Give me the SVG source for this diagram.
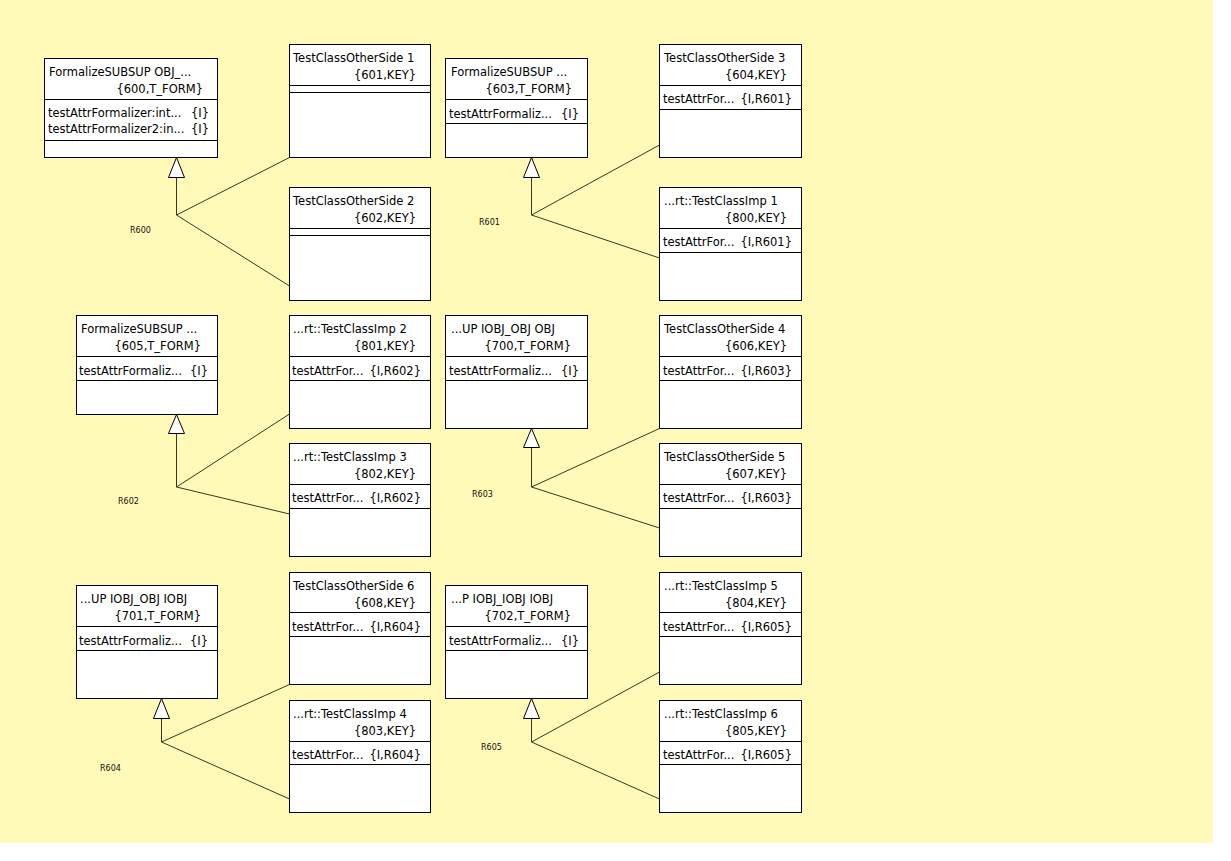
<svg xmlns="http://www.w3.org/2000/svg" width="1231" height="861" viewBox="0 0 1231 861">
<style>
.box rect{fill:#fff;stroke:#000;stroke-width:1}
.box line{stroke:#000;stroke-width:1}
text{font-family:"DejaVu Sans","Liberation Sans",Arial,sans-serif;font-size:11.5px;fill:#000}
.e{text-anchor:end}
.lbl{font-size:8px;fill:#111}
.conn line,.conn polyline{stroke:#3a3520;stroke-width:1;fill:none}
.conn polygon{fill:#fff;stroke:#000;stroke-width:1}
</style>
<rect x="0" y="0" width="1231" height="861" fill="#fff"/>
<rect x="0" y="0" width="1213" height="843" fill="#FFFAB8"/>

<!-- Group R600 -->
<g id="S600" class="box">
<rect x="44.5" y="58.5" width="173" height="99"/>
<line x1="44.5" y1="99.5" x2="217.5" y2="99.5"/>
<line x1="44.5" y1="140.5" x2="217.5" y2="140.5"/>
<text x="49" y="76">FormalizeSUBSUP OBJ_...</text>
<text x="203" y="93" class="e">{600,T_FORM}</text>
<text x="48" y="117">testAttrFormalizer:int...</text>
<text x="209" y="117" class="e">{I}</text>
<text x="48" y="133">testAttrFormalizer2:in...</text>
<text x="209" y="133" class="e">{I}</text>
</g>
<g id="O601" class="box">
<rect x="289.5" y="44.5" width="141" height="113"/>
<line x1="289.5" y1="85.5" x2="430.5" y2="85.5"/>
<line x1="289.5" y1="92.5" x2="430.5" y2="92.5"/>
<text x="293" y="62">TestClassOtherSide 1</text>
<text x="416" y="79" class="e">{601,KEY}</text>
</g>
<g id="O602" class="box">
<rect x="289.5" y="187.5" width="141" height="113"/>
<line x1="289.5" y1="228.5" x2="430.5" y2="228.5"/>
<line x1="289.5" y1="235.5" x2="430.5" y2="235.5"/>
<text x="293" y="205">TestClassOtherSide 2</text>
<text x="416" y="222" class="e">{602,KEY}</text>
</g>

<!-- Group R601 -->
<g id="S603" class="box">
<rect x="445.5" y="58.5" width="142" height="99"/>
<line x1="445.5" y1="99.5" x2="587.5" y2="99.5"/>
<line x1="445.5" y1="123.5" x2="587.5" y2="123.5"/>
<text x="451" y="76">FormalizeSUBSUP ...</text>
<text x="572" y="93" class="e">{603,T_FORM}</text>
<text x="449" y="118">testAttrFormaliz...</text>
<text x="579" y="118" class="e">{I}</text>
</g>
<g id="O604" class="box">
<rect x="659.5" y="44.5" width="142" height="113"/>
<line x1="659.5" y1="85.5" x2="801.5" y2="85.5"/>
<line x1="659.5" y1="109.5" x2="801.5" y2="109.5"/>
<text x="664" y="62">TestClassOtherSide 3</text>
<text x="787" y="79" class="e">{604,KEY}</text>
<text x="663" y="103">testAttrFor...</text>
<text x="792" y="103" class="e">{I,R601}</text>
</g>
<g id="I800" class="box">
<rect x="659.5" y="187.5" width="142" height="113"/>
<line x1="659.5" y1="228.5" x2="801.5" y2="228.5"/>
<line x1="659.5" y1="252.5" x2="801.5" y2="252.5"/>
<text x="664" y="205">...rt::TestClassImp 1</text>
<text x="787" y="222" class="e">{800,KEY}</text>
<text x="663" y="246">testAttrFor...</text>
<text x="792" y="246" class="e">{I,R601}</text>
</g>

<!-- Group R602 -->
<g id="S605" class="box">
<rect x="76.5" y="315.5" width="141" height="99"/>
<line x1="76.5" y1="356.5" x2="217.5" y2="356.5"/>
<line x1="76.5" y1="380.5" x2="217.5" y2="380.5"/>
<text x="81" y="333">FormalizeSUBSUP ...</text>
<text x="201" y="350" class="e">{605,T_FORM}</text>
<text x="79" y="375">testAttrFormaliz...</text>
<text x="208" y="375" class="e">{I}</text>
</g>
<g id="I801" class="box">
<rect x="289.5" y="315.5" width="141" height="113"/>
<line x1="289.5" y1="356.5" x2="430.5" y2="356.5"/>
<line x1="289.5" y1="380.5" x2="430.5" y2="380.5"/>
<text x="293" y="333">...rt::TestClassImp 2</text>
<text x="416" y="350" class="e">{801,KEY}</text>
<text x="292" y="375">testAttrFor...</text>
<text x="421" y="375" class="e">{I,R602}</text>
</g>
<g id="I802" class="box">
<rect x="289.5" y="443.5" width="141" height="113"/>
<line x1="289.5" y1="484.5" x2="430.5" y2="484.5"/>
<line x1="289.5" y1="508.5" x2="430.5" y2="508.5"/>
<text x="293" y="461">...rt::TestClassImp 3</text>
<text x="416" y="478" class="e">{802,KEY}</text>
<text x="292" y="502">testAttrFor...</text>
<text x="421" y="502" class="e">{I,R602}</text>
</g>

<!-- Group R603 -->
<g id="S700" class="box">
<rect x="445.5" y="315.5" width="142" height="113"/>
<line x1="445.5" y1="356.5" x2="587.5" y2="356.5"/>
<line x1="445.5" y1="380.5" x2="587.5" y2="380.5"/>
<text x="451" y="333">...UP IOBJ_OBJ OBJ</text>
<text x="571" y="350" class="e">{700,T_FORM}</text>
<text x="449" y="375">testAttrFormaliz...</text>
<text x="579" y="375" class="e">{I}</text>
</g>
<g id="O606" class="box">
<rect x="659.5" y="315.5" width="142" height="113"/>
<line x1="659.5" y1="356.5" x2="801.5" y2="356.5"/>
<line x1="659.5" y1="380.5" x2="801.5" y2="380.5"/>
<text x="664" y="333">TestClassOtherSide 4</text>
<text x="787" y="350" class="e">{606,KEY}</text>
<text x="663" y="375">testAttrFor...</text>
<text x="792" y="375" class="e">{I,R603}</text>
</g>
<g id="O607" class="box">
<rect x="659.5" y="443.5" width="142" height="113"/>
<line x1="659.5" y1="484.5" x2="801.5" y2="484.5"/>
<line x1="659.5" y1="508.5" x2="801.5" y2="508.5"/>
<text x="664" y="461">TestClassOtherSide 5</text>
<text x="787" y="478" class="e">{607,KEY}</text>
<text x="663" y="502">testAttrFor...</text>
<text x="792" y="502" class="e">{I,R603}</text>
</g>

<!-- Group R604 -->
<g id="S701" class="box">
<rect x="76.5" y="585.5" width="141" height="113"/>
<line x1="76.5" y1="626.5" x2="217.5" y2="626.5"/>
<line x1="76.5" y1="650.5" x2="217.5" y2="650.5"/>
<text x="80" y="603">...UP IOBJ_OBJ IOBJ</text>
<text x="201" y="620" class="e">{701,T_FORM}</text>
<text x="79" y="645">testAttrFormaliz...</text>
<text x="208" y="645" class="e">{I}</text>
</g>
<g id="O608" class="box">
<rect x="289.5" y="572.5" width="141" height="112"/>
<line x1="289.5" y1="612.5" x2="430.5" y2="612.5"/>
<line x1="289.5" y1="636.5" x2="430.5" y2="636.5"/>
<text x="293" y="590">TestClassOtherSide 6</text>
<text x="416" y="607" class="e">{608,KEY}</text>
<text x="292" y="631">testAttrFor...</text>
<text x="421" y="631" class="e">{I,R604}</text>
</g>
<g id="I803" class="box">
<rect x="289.5" y="700.5" width="141" height="112"/>
<line x1="289.5" y1="741.5" x2="430.5" y2="741.5"/>
<line x1="289.5" y1="764.5" x2="430.5" y2="764.5"/>
<text x="293" y="718">...rt::TestClassImp 4</text>
<text x="416" y="735" class="e">{803,KEY}</text>
<text x="292" y="759">testAttrFor...</text>
<text x="421" y="759" class="e">{I,R604}</text>
</g>

<!-- Group R605 -->
<g id="S702" class="box">
<rect x="445.5" y="585.5" width="142" height="113"/>
<line x1="445.5" y1="626.5" x2="587.5" y2="626.5"/>
<line x1="445.5" y1="650.5" x2="587.5" y2="650.5"/>
<text x="451" y="603">...P IOBJ_IOBJ IOBJ</text>
<text x="571" y="620" class="e">{702,T_FORM}</text>
<text x="449" y="645">testAttrFormaliz...</text>
<text x="579" y="645" class="e">{I}</text>
</g>
<g id="I804" class="box">
<rect x="659.5" y="572.5" width="142" height="112"/>
<line x1="659.5" y1="612.5" x2="801.5" y2="612.5"/>
<line x1="659.5" y1="636.5" x2="801.5" y2="636.5"/>
<text x="664" y="590">...rt::TestClassImp 5</text>
<text x="787" y="607" class="e">{804,KEY}</text>
<text x="663" y="631">testAttrFor...</text>
<text x="792" y="631" class="e">{I,R605}</text>
</g>
<g id="I805" class="box">
<rect x="659.5" y="700.5" width="142" height="112"/>
<line x1="659.5" y1="741.5" x2="801.5" y2="741.5"/>
<line x1="659.5" y1="764.5" x2="801.5" y2="764.5"/>
<text x="664" y="718">...rt::TestClassImp 6</text>
<text x="787" y="735" class="e">{805,KEY}</text>
<text x="663" y="759">testAttrFor...</text>
<text x="792" y="759" class="e">{I,R605}</text>
</g>

<!-- Connectors -->
<g id="connectors" class="conn">
<g id="R600">
<line x1="176.5" y1="177" x2="176.5" y2="215"/>
<line x1="176.5" y1="215" x2="289.5" y2="157.5"/>
<line x1="176.5" y1="215" x2="289.5" y2="286"/>
<polygon points="176.5,157.5 168.5,177.5 184.5,177.5"/>
<text x="130" y="233" class="lbl">R600</text>
</g>
<g id="R601">
<line x1="531.5" y1="177" x2="531.5" y2="215"/>
<line x1="531.5" y1="215" x2="659.5" y2="145"/>
<line x1="531.5" y1="215" x2="659.5" y2="258"/>
<polygon points="531.5,157.5 523.5,177.5 539.5,177.5"/>
<text x="479" y="225" class="lbl">R601</text>
</g>
<g id="R602">
<line x1="176.5" y1="433" x2="176.5" y2="487"/>
<line x1="176.5" y1="487" x2="289.5" y2="414"/>
<line x1="176.5" y1="487" x2="289.5" y2="514"/>
<polygon points="176.5,414.5 168.5,433.5 184.5,433.5"/>
<text x="118" y="504" class="lbl">R602</text>
</g>
<g id="R603">
<line x1="531.5" y1="447" x2="531.5" y2="487"/>
<line x1="531.5" y1="487" x2="659.5" y2="428.5"/>
<line x1="531.5" y1="487" x2="659.5" y2="528"/>
<polygon points="531.5,428.5 523.5,447.5 539.5,447.5"/>
<text x="472" y="497" class="lbl">R603</text>
</g>
<g id="R604">
<line x1="161.5" y1="718" x2="161.5" y2="742"/>
<line x1="161.5" y1="742" x2="289.5" y2="684.5"/>
<line x1="161.5" y1="742" x2="289.5" y2="799"/>
<polygon points="161.5,698.5 153.5,718.5 169.5,718.5"/>
<text x="100" y="771" class="lbl">R604</text>
</g>
<g id="R605">
<line x1="531.5" y1="718" x2="531.5" y2="742"/>
<line x1="531.5" y1="742" x2="659.5" y2="672"/>
<line x1="531.5" y1="742" x2="659.5" y2="799"/>
<polygon points="531.5,698.5 523.5,718.5 539.5,718.5"/>
<text x="481" y="750" class="lbl">R605</text>
</g>
</g>
</svg>
